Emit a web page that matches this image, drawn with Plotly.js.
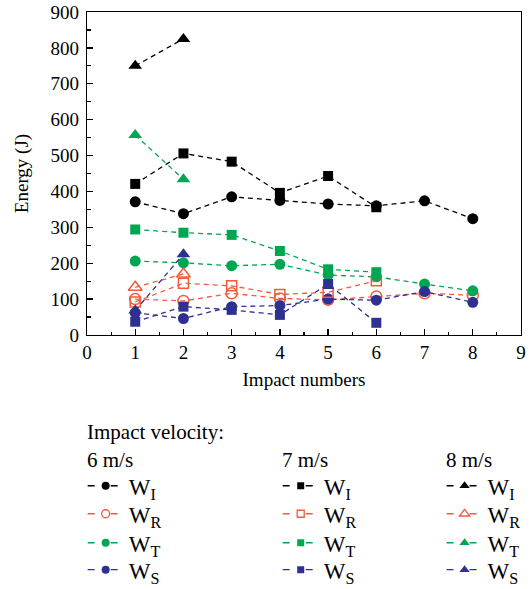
<!DOCTYPE html>
<html>
<head>
<meta charset="utf-8">
<script src="https://cdn.plot.ly/plotly-3.0.1.min.js"></script>
<style>html,body{margin:0;padding:0;background:#fff;}#chart{width:532px;height:589px;}</style>
</head>
<body>
<div id="chart"></div>
<script>
// ---- data ----
const impacts6 = [1, 2, 3, 4, 5, 6, 7, 8];
const wI_6 = [371, 338, 385, 375, 365, 360, 374, 324];
const wR_6 = [100, 95, 116, 102, 98, 107, 116, 111];
const wT_6 = [206, 201, 193, 197, 167, 162, 142, 123];
const wS_6 = [62, 46, 79, 82, 100, 97, 121, 91];

const impacts7 = [1, 2, 3, 4, 5, 6];
const wI_7 = [421, 506, 483, 396, 443, 356];
const wR_7 = [92, 144, 137, 113, 119, 151];
const wT_7 = [294, 285, 279, 234, 183, 175];
const wS_7 = [37, 79, 70, 56, 142, 34];

const impacts8 = [1, 2];
const wI_8 = [750, 825];
const wR_8 = [133, 170];
const wT_8 = [557, 434];
const wS_8 = [68, 225];

const seriesNames = ["W<sub>I</sub>", "W<sub>R</sub>", "W<sub>T</sub>", "W<sub>S</sub>"];
const velocityLabels = ["6 m/s", "7 m/s", "8 m/s"];
const legendHeading = "Impact velocity:";
const xTickVals = [0, 1, 2, 3, 4, 5, 6, 7, 8, 9];
const yTickVals = [0, 100, 200, 300, 400, 500, 600, 700, 800, 900];

// ---- styles ----
const FONT = "Liberation Serif, Times New Roman, serif";
const colors = ["#000000", "#f15a3c", "#00a651", "#2e3192"];
const groups = [
  {x: impacts6, ys: [wI_6, wR_6, wT_6, wS_6], symbols: ["circle", "circle-open", "circle", "circle"]},
  {x: impacts7, ys: [wI_7, wR_7, wT_7, wS_7], symbols: ["square", "square-open", "square", "square"]},
  {x: impacts8, ys: [wI_8, wR_8, wT_8, wS_8], symbols: ["triangle-up", "triangle-up-open", "triangle-up", "triangle-up"]}
];

function markerSize(sym, legend) {
  if (sym.indexOf("triangle") === 0) return legend ? 9 : 12;
  if (sym.indexOf("square") === 0) return legend ? 7 : 10;
  return legend ? 8 : 11;
}

const traces = [];
// data traces
groups.forEach((g, gi) => {
  g.ys.forEach((y, si) => {
    const sym = g.symbols[si];
    traces.push({
      type: "scatter",
      mode: "lines+markers",
      x: g.x,
      y: y,
      name: seriesNames[si],
      showlegend: false,
      line: {color: colors[si], width: 1.3, dash: "5px,4px"},
      marker: {
        symbol: sym,
        color: colors[si],
        size: markerSize(sym, false),
        line: {color: colors[si], width: sym.indexOf("open") > 0 ? 1.5 : 0}
      },
      cliponaxis: false,
      hoverinfo: "skip"
    });
  });
});

// legend key entries (one legend per entry so each can be placed like the reference)
const colX = [-0.01, 0.4394, 0.817];
const rowY = [-0.4668, -0.5535, -0.6433, -0.7268];
const legendLayouts = {};
let li = 1;
groups.forEach((g, gi) => {
  seriesNames.forEach((nm, si) => {
    const sym = g.symbols[si];
    const key = li === 1 ? "legend" : "legend" + li;
    traces.push({
      type: "scatter",
      mode: "lines+markers",
      x: [null],
      y: [null],
      name: nm,
      legend: key,
      showlegend: true,
      line: {color: colors[si], width: 1.3, dash: "7px,16px"},
      marker: {
        symbol: sym,
        color: colors[si],
        size: markerSize(sym, true),
        line: {color: colors[si], width: sym.indexOf("open") > 0 ? 1.3 : 0}
      },
      hoverinfo: "skip"
    });
    legendLayouts[key] = {
      orientation: "v",
      x: colX[gi],
      y: rowY[si],
      xanchor: "left",
      yanchor: "middle",
      bgcolor: "rgba(0,0,0,0)",
      borderwidth: 0,
      itemwidth: 36,
      font: {family: FONT, size: 23, color: "#000"}
    };
    li++;
  });
});

const layout = Object.assign({
  width: 532,
  height: 589,
  margin: {l: 87, r: 11, t: 12, b: 254, autoexpand: false},
  paper_bgcolor: "#fff",
  plot_bgcolor: "#fff",
  font: {family: FONT, size: 19, color: "#000"},
  showlegend: true,
  xaxis: {
    range: [0, 9],
    tickvals: xTickVals,
    ticks: "inside",
    ticklen: 6,
    tickwidth: 1.3,
    tickcolor: "#000",
    minor: {ticks: "inside", dtick: 0.5, ticklen: 3.5, tickwidth: 1.2, tickcolor: "#000"},
    showgrid: false,
    zeroline: false,
    showline: true,
    linecolor: "#000",
    linewidth: 1.3,
    mirror: true,
    tickfont: {family: FONT, size: 19},
    title: {text: "Impact numbers", font: {family: FONT, size: 19}, standoff: 10}
  },
  yaxis: {
    range: [0, 900],
    tickvals: yTickVals,
    ticks: "inside",
    ticklen: 6,
    tickwidth: 1.3,
    tickcolor: "#000",
    minor: {ticks: "inside", dtick: 50, ticklen: 3.5, tickwidth: 1.2, tickcolor: "#000"},
    showgrid: false,
    zeroline: false,
    showline: true,
    linecolor: "#000",
    linewidth: 1.3,
    mirror: true,
    ticklabelstandoff: 3,
    tickfont: {family: FONT, size: 19},
    title: {text: "Energy (J)", font: {family: FONT, size: 19}, standoff: 16}
  },
  annotations: [
    {text: legendHeading, xref: "paper", yref: "paper", x: 0, y: -0.300, xanchor: "left", yanchor: "middle", showarrow: false, xshift: -2, font: {family: FONT, size: 21}},
    {text: velocityLabels[0], xref: "paper", yref: "paper", x: 0, y: -0.387, xanchor: "left", yanchor: "middle", showarrow: false, xshift: -2, font: {family: FONT, size: 21}},
    {text: velocityLabels[1], xref: "paper", yref: "paper", x: 0.449, y: -0.387, xanchor: "left", yanchor: "middle", showarrow: false, xshift: -2, font: {family: FONT, size: 21}},
    {text: velocityLabels[2], xref: "paper", yref: "paper", x: 0.827, y: -0.387, xanchor: "left", yanchor: "middle", showarrow: false, xshift: -2, font: {family: FONT, size: 21}}
  ]
}, legendLayouts);

Plotly.newPlot("chart", traces, layout, {staticPlot: true, displayModeBar: false});
</script>
</body>
</html>
